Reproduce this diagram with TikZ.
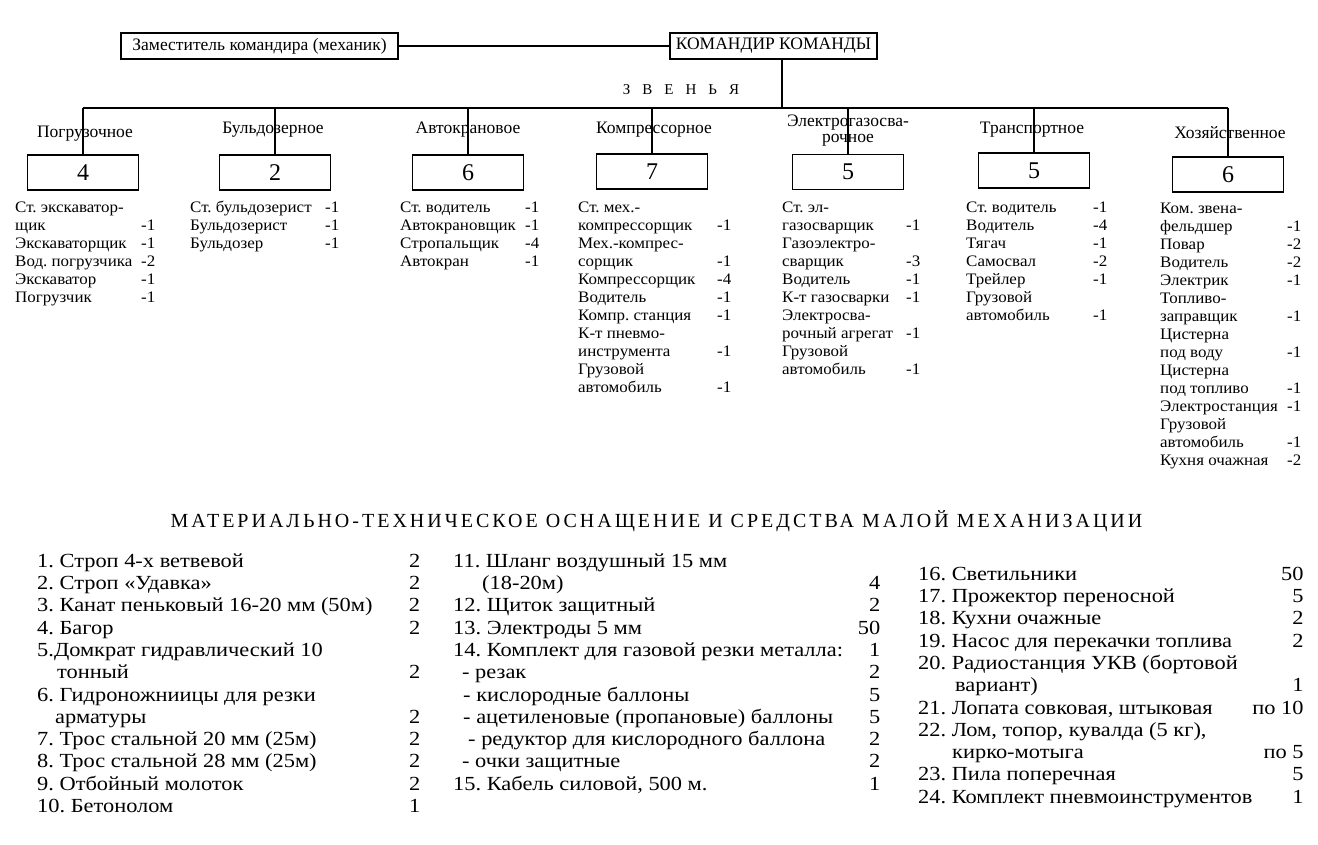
\documentclass[tikz,border=0pt]{standalone}
\usepackage{fontspec}
\setmainfont{Liberation Serif}
\newfontfamily\rosterfamily[FakeStretch=1.06]{Liberation Serif}
\newfontfamily\kitfamily[FakeStretch=1.12]{Liberation Serif}
\usepackage{tikz}
\usetikzlibrary{positioning}
\frenchspacing

% font sizes (1pt = 1px of the reference)
\newcommand{\rosterfont}{\rosterfamily\fontsize{16}{18}\selectfont}
\newcommand{\kitfont}{\kitfamily\fontsize{20}{22.3}\selectfont}
\newcommand{\gap}{\hspace{12pt}}

\begin{document}
\begin{tikzpicture}[x=1pt, y=-1pt,
  chief/.style={draw, line width=1.8pt, inner sep=0pt, minimum height=26pt, font=\fontsize{17.5}{20}\selectfont},
  squad/.style={draw, line width=1.8pt, inner sep=0pt, minimum width=111pt, minimum height=35pt, font=\fontsize{24}{24}\selectfont},
  unitlabel/.style={inner sep=0pt, align=center, font=\fontsize{17.5}{16}\selectfont},
  roster/.style={anchor=north west, inner sep=0pt, font=\rosterfont},
  kit/.style={anchor=north west, inner sep=0pt, font=\kitfont},
  link/.style={line width=1.3pt}]
  \useasboundingbox (0,0) rectangle (1318,844);

  % head of the team
  \node[chief, minimum width=277pt] (deputy) at (259.5,46) {Заместитель командира (механик)};
  \node[chief, minimum width=207pt] (cmdr) at (773.5,46) {КОМАНДИР КОМАНДЫ};
  \draw[link] (deputy) -- (cmdr);

  % the bus to the squads
  \coordinate (hub) at (782,108);
  \coordinate (busL) at (83,108);
  \coordinate (busR) at (1228,108);
  \draw[link] (hub |- cmdr.south) -- (hub);
  \draw[link] (busL) -- (busR);
  \node[font=\fontsize{15}{15}\selectfont] (links) at (681,90) {З\gap В\gap Е\gap Н\gap Ь\gap Я};

  % squad boxes
  \node[squad] (s1) at (83,172.5) {4};
  \node[squad] (s2) at (275,172.5) {2};
  \node[squad] (s3) at (468,172.5) {6};
  \node[squad] (s4) at (652,171.5) {7};
  \node[squad] (s5) at (848,172) {5};
  \node[squad] (s6) at (1034,170.5) {5};
  \node[squad] (s7) at (1228,174.5) {6};

  % squad names (the drop lines run through them)
  \node[unitlabel] (n1) at (85,134) {Погрузочное};
  \node[unitlabel] (n2) at (273,130) {Бульдозерное};
  \node[unitlabel] (n3) at (468,130) {Автокрановое};
  \node[unitlabel] (n4) at (654,130) {Компрессорное};
  \node[unitlabel] (n5) at (848,131) {Электрогазосва-\\рочное};
  \node[unitlabel] (n6) at (1032,130) {Транспортное};
  \node[unitlabel] (n7) at (1230,133) {Хозяйственное};

  % drops from the bus
  \draw[link] (s1.north |- busL) -- (s1.north);
  \draw[link] (s2.north |- busL) -- (s2.north);
  \draw[link] (s3.north |- busL) -- (s3.north);
  \draw[link] (s4.north |- busL) -- (s4.north);
  \draw[link] (s5.north |- busL) -- (s5.north);
  \draw[link] (s6.north |- busL) -- (s6.north);
  \draw[link] (s7.north |- busL) -- (s7.north);

  % staff and machines of each squad
  \node[roster] (r1) at (15,200) {\begin{tabular}{@{}p{126pt}@{}l@{}}
    Ст. экскаватор- & \\ щик & -1\\ Экскаваторщик & -1\\ Вод. погрузчика & -2\\
    Экскаватор & -1\\ Погрузчик & -1\end{tabular}};
  \node[roster] (r2) at (190,200) {\begin{tabular}{@{}p{135pt}@{}l@{}}
    Ст. бульдозерист & -1\\ Бульдозерист & -1\\ Бульдозер & -1\end{tabular}};
  \node[roster] (r3) at (400,200) {\begin{tabular}{@{}p{125pt}@{}l@{}}
    Ст. водитель & -1\\ Автокрановщик & -1\\ Стропальщик & -4\\ Автокран & -1\end{tabular}};
  \node[roster] (r4) at (578,200) {\begin{tabular}{@{}p{139pt}@{}l@{}}
    Ст. мех.- & \\ компрессорщик & -1\\ Мех.-компрес- & \\ сорщик & -1\\
    Компрессорщик & -4\\ Водитель & -1\\ Компр. станция & -1\\ К-т пневмо- & \\
    инструмента & -1\\ Грузовой & \\ автомобиль & -1\end{tabular}};
  \node[roster] (r5) at (782,200) {\begin{tabular}{@{}p{124pt}@{}l@{}}
    Ст. эл- & \\ газосварщик & -1\\ Газоэлектро- & \\ сварщик & -3\\ Водитель & -1\\
    К-т газосварки & -1\\ Электросва- & \\ рочный агрегат & -1\\ Грузовой & \\
    автомобиль & -1\end{tabular}};
  \node[roster] (r6) at (966,200) {\begin{tabular}{@{}p{127pt}@{}l@{}}
    Ст. водитель & -1\\ Водитель & -4\\ Тягач & -1\\ Самосвал & -2\\ Трейлер & -1\\
    Грузовой & \\ автомобиль & -1\end{tabular}};
  \node[roster] (r7) at (1160,200.5) {\begin{tabular}{@{}p{127pt}@{}l@{}}
    Ком. звена- & \\ фельдшер & -1\\ Повар & -2\\ Водитель & -2\\ Электрик & -1\\
    Топливо- & \\ заправщик & -1\\ Цистерна & \\ под воду & -1\\ Цистерна & \\
    под топливо & -1\\ Электростанция & -1\\ Грузовой & \\ автомобиль & -1\\
    Кухня очажная & -2\end{tabular}};

  % equipment
  \node[font=\fontsize{20}{20}\addfontfeature{LetterSpace=15}\selectfont] (title) at (656.5,521)
    {МАТЕРИАЛЬНО-ТЕХНИЧЕСКОЕ ОСНАЩЕНИЕ И СРЕДСТВА МАЛОЙ МЕХАНИЗАЦИИ};
  \node[kit] (k1) at (37,551.4) {\begin{tabular*}{383pt}{@{}l@{\extracolsep{\fill}}r@{}}
    1. Строп 4-х ветвевой & 2\\ 2. Строп «Удавка» & 2\\ 3. Канат пеньковый 16-20 мм (50м) & 2\\
    4. Багор & 2\\ 5.Домкрат гидравлический 10 & \\ \hspace*{20pt}тонный & 2\\
    6. Гидроножниицы для резки & \\ \hspace*{18pt}арматуры & 2\\
    7. Трос стальной 20 мм (25м) & 2\\ 8. Трос стальной 28 мм (25м) & 2\\
    9. Отбойный молоток & 2\\ 10. Бетонолом & 1\end{tabular*}};
  \node[kit] (k2) at (453,551.4) {\begin{tabular*}{427pt}{@{}l@{\extracolsep{\fill}}r@{}}
    11. Шланг воздушный 15 мм & \\ \hspace*{29pt}(18-20м) & 4\\ 12. Щиток защитный & 2\\
    13. Электроды 5 мм & 50\\ 14. Комплект для газовой резки металла: & 1\\
    \hspace*{9pt}- резак & 2\\ \hspace*{10pt}- кислородные баллоны & 5\\
    \hspace*{10pt}- ацетиленовые (пропановые) баллоны & 5\\
    \hspace*{15pt}- редуктор для кислородного баллона & 2\\
    \hspace*{9pt}- очки защитные & 2\\ 15. Кабель силовой, 500 м. & 1\end{tabular*}};
  \node[kit] (k3) at (918,564.4) {\begin{tabular*}{382pt}{@{}l@{\extracolsep{\fill}}r@{}}
    16. Светильники & 50\\ 17. Прожектор переносной & 5\\ 18. Кухни очажные & 2\\
    19. Насос для перекачки топлива & 2\\ 20. Радиостанция УКВ (бортовой & \\
    \hspace*{37pt}вариант) & 1\\ 21. Лопата совковая, штыковая & по 10\\
    22. Лом, топор, кувалда (5 кг), & \\ \hspace*{34pt}кирко-мотыга & по 5\\
    23. Пила поперечная & 5\\ 24. Комплект пневмоинструментов & 1\end{tabular*}};
\end{tikzpicture}
\end{document}
